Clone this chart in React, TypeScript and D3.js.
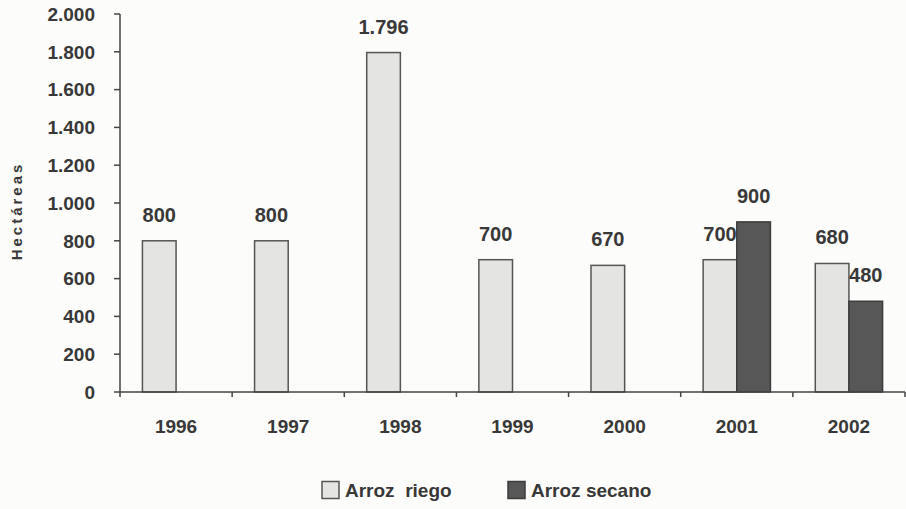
import React from "react";
import * as d3 from "d3";

const years = ["1996", "1997", "1998", "1999", "2000", "2001", "2002"];
const riego = [800, 800, 1796, 700, 670, 700, 680];
const secano: (number | null)[] = [null, null, null, null, null, 900, 480];
const seriesKeys = ["riego", "secano"];
const seriesNames = ["Arroz  riego", "Arroz secano"];
const yTicks = [0, 200, 400, 600, 800, 1000, 1200, 1400, 1600, 1800, 2000];

const W = 906;
const H = 509;
const M = { left: 120, right: 1, top: 14, bottom: 117 };
const FONT = "'Liberation Sans', Arial, Helvetica, sans-serif";
const TEXT = "#383838";
const AXIS = "#454545";
const FILLS = ["#e4e4e2", "#575757"];
const STROKES = ["#555555", "#3c3c3c"];

const fmt = (v: number) => d3.format(",")(v).replace(/,/g, ".");

export default function App() {
  const x = d3.scaleBand<string>().domain(years).range([M.left, W - M.right]).padding(0);
  const bw = x.bandwidth();
  const xs = d3.scaleBand<string>().domain(seriesKeys).range([bw * 0.2, bw * 0.8]).padding(0);
  const y = d3.scaleLinear().domain([0, 2000]).range([H - M.bottom, M.top]);
  const y0 = y(0);

  const rows = years.map((yr, i) => ({ yr, vals: [riego[i], secano[i]] }));

  return (
    <svg width={W} height={H} style={{ position: "absolute", left: 0, top: 0, background: "#fcfcfa" }} fontFamily={FONT}>
      <rect x={0} y={0} width={W} height={H} fill="#fcfcfa" />
      {/* bars */}
      {rows.map((r) =>
        r.vals.map((v, si) =>
          v == null ? null : (
            <rect
              key={r.yr + si}
              x={(x(r.yr) as number) + (xs(seriesKeys[si]) as number)}
              y={y(v)}
              width={xs.bandwidth()}
              height={y0 - y(v)}
              fill={FILLS[si]}
              stroke={STROKES[si]}
              strokeWidth={1.5}
            />
          )
        )
      )}
      {/* value labels */}
      {rows.map((r) =>
        r.vals.map((v, si) =>
          v == null ? null : (
            <text
              key={"l" + r.yr + si}
              x={(x(r.yr) as number) + (xs(seriesKeys[si]) as number) + xs.bandwidth() / 2}
              y={y(v) - 19}
              textAnchor="middle"
              fontSize={20}
              fontWeight="bold"
              fill={TEXT}
            >
              {fmt(v)}
            </text>
          )
        )
      )}
      {/* y axis */}
      <line x1={M.left} x2={M.left} y1={y(2000)} y2={y0} stroke={AXIS} strokeWidth={1.5} />
      {yTicks.map((t) => (
        <g key={t}>
          <line x1={M.left - 6} x2={M.left} y1={y(t)} y2={y(t)} stroke={AXIS} strokeWidth={1.5} />
          <text x={M.left - 25} y={y(t)} dy="0.36em" textAnchor="end" fontSize={19} fontWeight="bold" fill={TEXT}>
            {fmt(t)}
          </text>
        </g>
      ))}
      {/* x axis */}
      <line x1={M.left} x2={W - M.right} y1={y0} y2={y0} stroke={AXIS} strokeWidth={1.5} />
      {years.map((yr) => (
        <line key={"t" + yr} x1={(x(yr) as number) + bw} x2={(x(yr) as number) + bw} y1={y0} y2={y0 + 5} stroke={AXIS} strokeWidth={1.5} />
      ))}
      <line x1={M.left} x2={M.left} y1={y0} y2={y0 + 5} stroke={AXIS} strokeWidth={1.5} />
      {years.map((yr) => (
        <text key={"x" + yr} x={(x(yr) as number) + bw / 2} y={y0 + 41} textAnchor="middle" fontSize={19} fontWeight="bold" fill={TEXT}>
          {yr}
        </text>
      ))}
      {/* y title */}
      <text
        transform={`translate(22, ${(y(2000) + y0) / 2 + 8}) rotate(-90)`}
        textAnchor="middle"
        fontSize={15}
        fontWeight="bold"
        letterSpacing={3}
        fill={TEXT}
      >
        Hectáreas
      </text>
      {/* legend */}
      {seriesNames.map((n, i) => {
        const lx = [322, 508][i];
        const ly = 490;
        return (
          <g key={n}>
            <rect x={lx} y={ly - 8.5} width={17} height={17} fill={FILLS[i]} stroke={STROKES[i]} strokeWidth={1.5} />
            <text x={lx + 23} y={ly} dy="0.36em" fontSize={19} fontWeight="bold" fill={TEXT} style={{ whiteSpace: "pre" }}>
              {n}
            </text>
          </g>
        );
      })}
    </svg>
  );
}
